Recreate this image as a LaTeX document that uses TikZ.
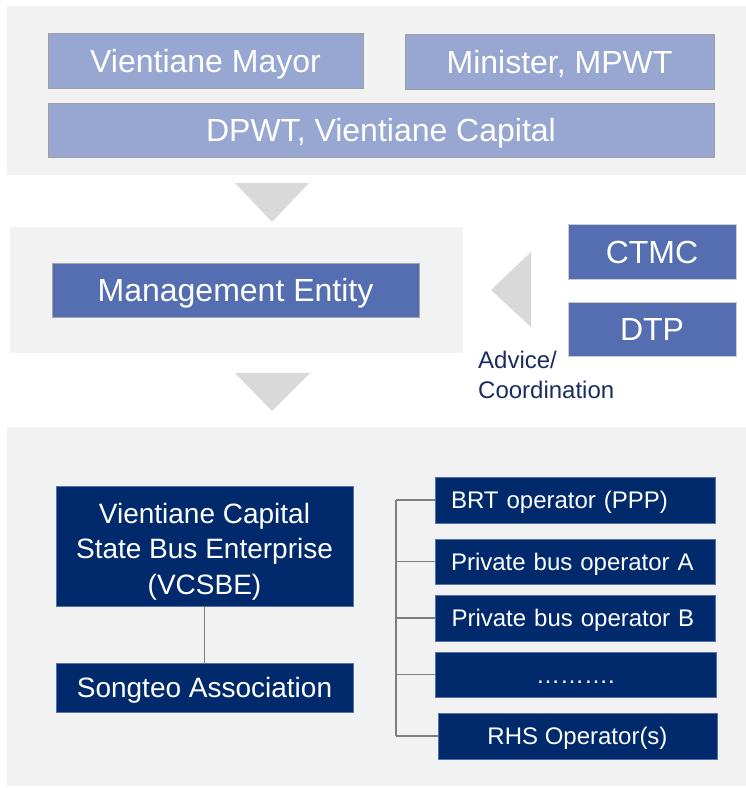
\documentclass[tikz,border=0pt]{standalone}
\usepackage{fontspec}
\setmainfont{Liberation Sans}
\definecolor{panel}{HTML}{F2F2F2}
\definecolor{tri}{HTML}{D9D9D9}
\definecolor{lightbox}{HTML}{97A7D1}
\definecolor{midbox}{HTML}{546EB1}
\definecolor{navybox}{HTML}{002A6C}
\definecolor{navyedge}{HTML}{5670A8}
\definecolor{conncol}{HTML}{7F7F7F}
\definecolor{labelcol}{HTML}{1B2C5E}
\begin{document}
\begin{tikzpicture}[x=1pt,y=-1pt,
  basebox/.style={inner sep=0pt, text=white, align=center},
  topbox/.style={basebox, fill=lightbox, draw=gray!75, line width=0.8pt, font=\fontsize{32}{38}\selectfont, text height=23pt, text depth=0pt},
  midbx/.style={basebox, fill=midbox, draw=gray!70, line width=0.8pt, font=\fontsize{32}{38}\selectfont, text height=23pt, text depth=0pt},
  navybx/.style={basebox, fill=navybox, draw=navyedge, line width=0.6pt, font=\fontsize{28}{35.5}\selectfont},
  opbox/.style={basebox, fill=navybox, draw=navyedge, line width=0.6pt, font=\fontsize{24}{28}\selectfont, text height=17pt, text depth=0pt},
  conn/.style={draw=conncol, line width=1.6pt},
  trunk/.style={draw=conncol, line width=2.4pt},
  arrowtri/.style={fill=tri, draw=none}
]
\useasboundingbox (0,0) rectangle (746,788);
% panels
\fill[panel] (7,6) rectangle (746,175);
\fill[panel] (10,227) rectangle (463,353);
\fill[panel] (7,427) rectangle (746,786);
% triangles
\fill[arrowtri] (235,183) -- (309,183) -- (272,222) -- cycle;
\fill[arrowtri] (235,373) -- (310,373) -- (272,411) -- cycle;
\fill[arrowtri] (531,252) -- (531,327) -- (491,290) -- cycle;
% top boxes
\node[topbox, minimum width=315pt, minimum height=55pt] (mayor) at (205.5,60.5) {Vientiane Mayor};
\node[topbox, minimum width=309pt, minimum height=55pt] (minister) at (559.5,61.5) {Minister, MPWT};
\node[topbox, minimum width=666pt, minimum height=54pt] (dpwt) at (381,130) {DPWT, Vientiane Capital};
% middle
\node[midbx, minimum width=367pt, minimum height=54pt] (me) at (235.5,290) {Management Entity};
\node[midbx, draw=gray!40, minimum width=168pt, minimum height=55pt] (ctmc) at (652,252) {CTMC};
\node[midbx, draw=gray!40, minimum width=168pt, minimum height=54pt] (dtp) at (652,329) {DTP};
\node[anchor=base west, inner sep=0pt, align=left, text=labelcol, font=\fontsize{24}{30}\selectfont] (advice) at (478,398) {Advice/\\Coordination};
% bottom left
\node[navybx, minimum width=297pt, minimum height=120pt] (vcsbe) at (204.5,546) {\rule{0pt}{31pt}Vientiane Capital\\State Bus Enterprise\\(VCSBE)};
\node[navybx, text height=20pt, text depth=0pt, minimum width=297pt, minimum height=49pt] (songteo) at (204.5,687.5) {Songteo Association};
\draw[conn] (vcsbe.south) -- (songteo.north);
% operators
\node[opbox, minimum width=280pt, minimum height=46pt, text width=248pt, inner xsep=16pt, align=left] (brt) at (575,500) {BRT operator (PPP)};
\node[opbox, minimum width=280pt, minimum height=45pt, text width=248pt, inner xsep=16pt, align=left] (pa) at (575,561.5) {Private bus operator A};
\node[opbox, minimum width=279pt, minimum height=46pt, text width=248pt, inner xsep=16pt, align=left] (pb) at (575.5,618) {Private bus operator B};
\node[opbox, minimum width=281pt, minimum height=45pt] (dots) at (575.5,674.5) {……….};
\node[opbox, minimum width=279pt, minimum height=46pt] (rhs) at (577.5,736) {RHS Operator(s)};
\coordinate (trunktop) at (396,500);
\coordinate (trunkbot) at (396,736);
\draw[trunk] (trunktop) -- (trunkbot);
\draw[conn] (brt.west) -- (brt.west -| trunktop);
\draw[conn] (pa.west) -- (pa.west -| trunktop);
\draw[conn] (pb.west) -- (pb.west -| trunktop);
\draw[conn] (dots.west) -- (dots.west -| trunktop);
\draw[conn] (rhs.west) -- (rhs.west -| trunktop);
\end{tikzpicture}
\end{document}
